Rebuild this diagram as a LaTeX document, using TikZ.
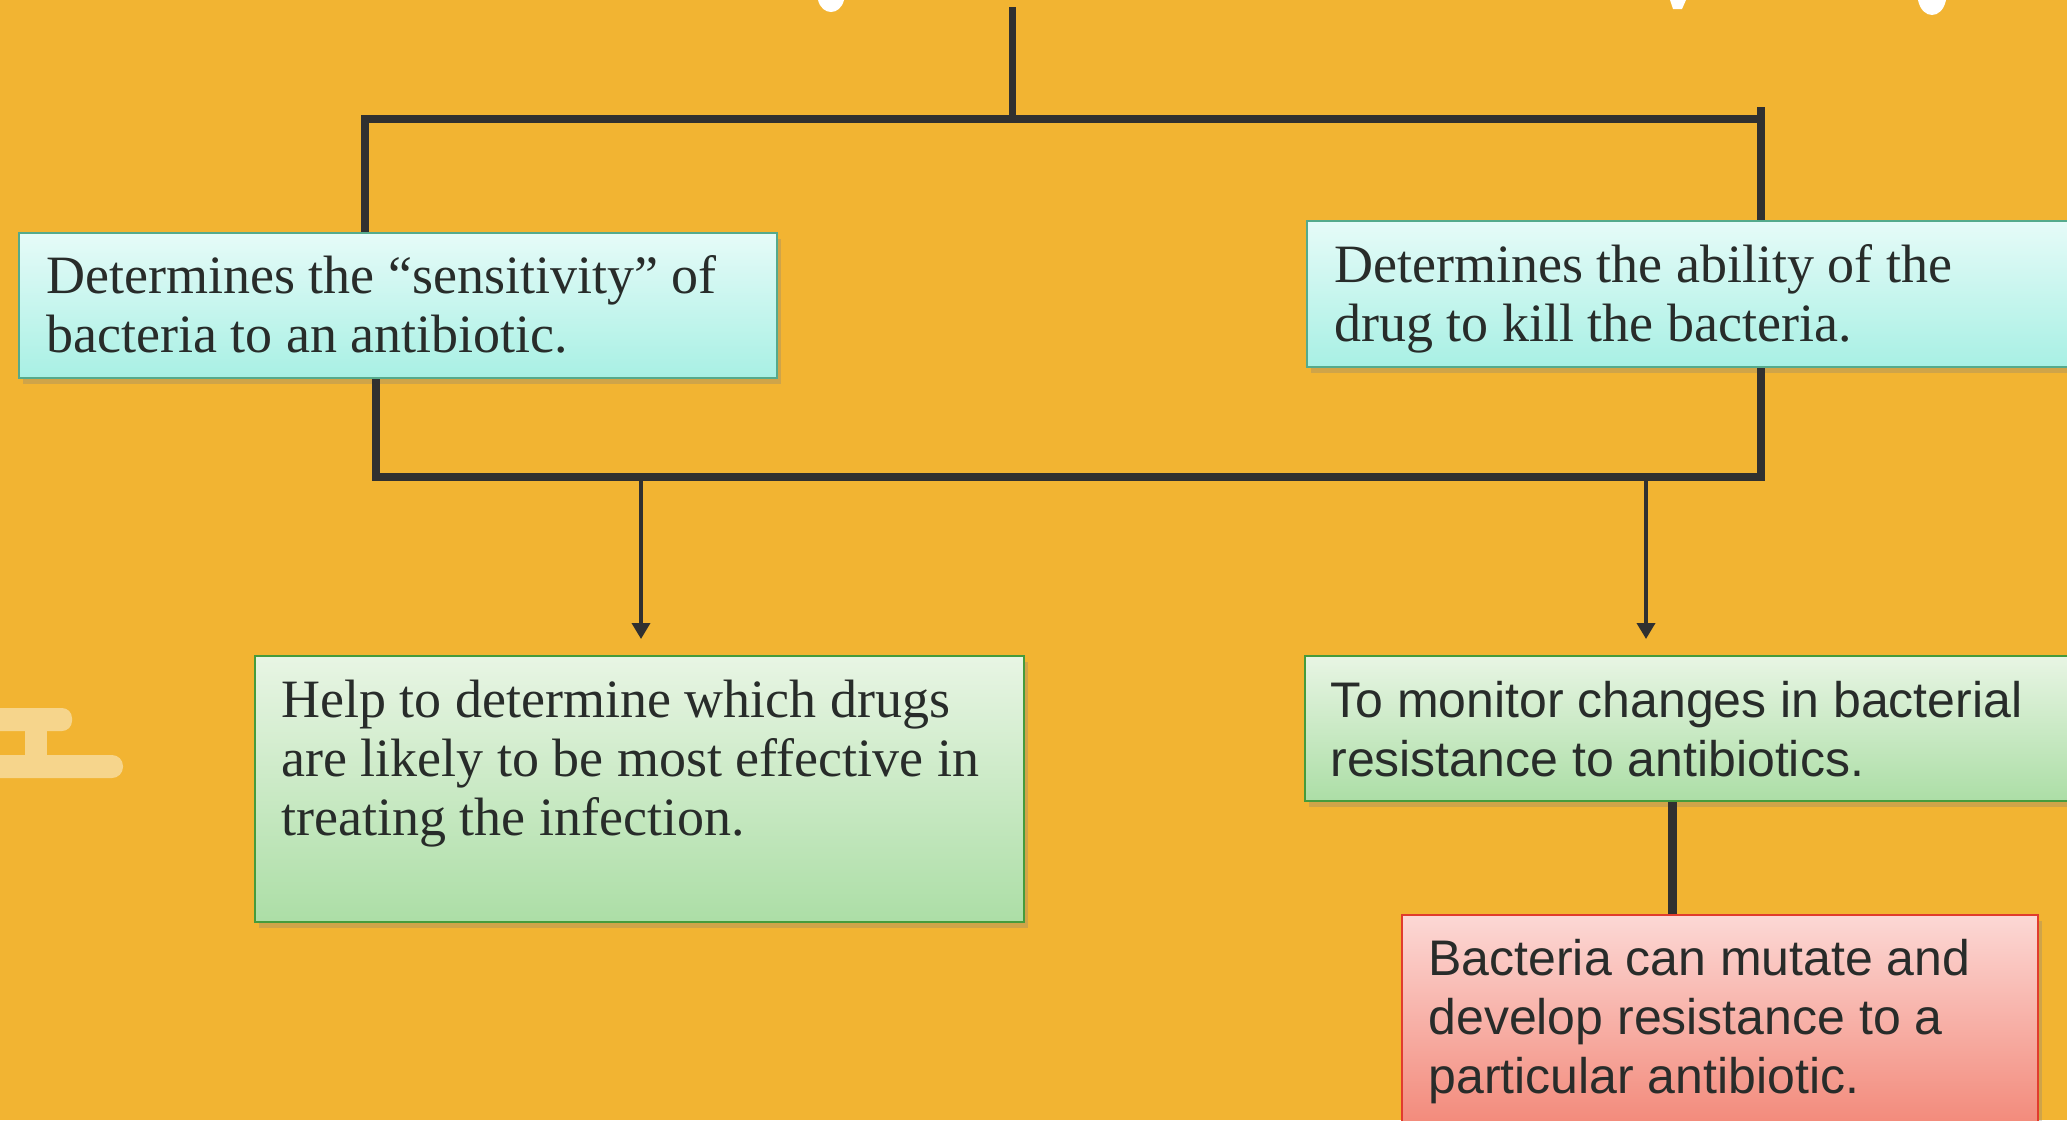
\documentclass[tikz,border=0pt]{standalone}
\usepackage{fontspec}
\setmainfont{Liberation Serif}
\newfontfamily\sansf{Liberation Sans}
\usetikzlibrary{arrows.meta,shadows,calc}
\definecolor{bg}{RGB}{242,180,50}
\definecolor{ln}{RGB}{48,48,48}
\definecolor{txtc}{RGB}{40,44,42}
\definecolor{cyanTop}{RGB}{230,251,248}
\definecolor{cyanBot}{RGB}{168,240,228}
\definecolor{cyanBd}{RGB}{85,170,140}
\definecolor{grTop}{RGB}{232,245,228}
\definecolor{grBot}{RGB}{172,222,166}
\definecolor{grBd}{RGB}{70,155,60}
\definecolor{rdTop}{RGB}{252,216,213}
\definecolor{rdBot}{RGB}{242,134,118}
\definecolor{rdBd}{RGB}{225,60,45}
\definecolor{deco}{RGB}{246,213,140}
\tikzset{
  boxbase/.style={anchor=north west, inner sep=0pt, line width=1pt,
    drop shadow={opacity=0.3, shadow xshift=2pt, shadow yshift=-3pt}},
  cyanbox/.style={boxbase, draw=cyanBd, top color=cyanTop, bottom color=cyanBot},
  greenbox/.style={boxbase, draw=grBd, top color=grTop, bottom color=grBot},
  redbox/.style={boxbase, draw=rdBd, top color=rdTop, bottom color=rdBot},
  sertxt/.style={anchor=base west, inner sep=0pt, align=left, text=txtc,
    font=\fontsize{27}{29.5}\selectfont},
  santxt/.style={anchor=base west, inner sep=0pt, align=left, text=txtc,
    font=\sansf\fontsize{25}{29.5}\selectfont},
  bar/.style={draw=ln, line width=4pt},
  arr/.style={draw=ln, line width=1.8pt, -{Triangle[width=9pt,length=8pt]}},
}
\begin{document}
\begin{tikzpicture}[x=0.5pt,y=-0.5pt]
\clip (0,0) rectangle (2067,1120);
\fill[bg] (0,0) rectangle (2067,1120);
% faint decoration at left
\fill[deco, rounded corners=5pt] (-20,708) rectangle (72,731);
\fill[deco] (25,725) rectangle (47,760);
\fill[deco, rounded corners=5.5pt] (-20,755) rectangle (123,778);
% white remnants of cut-off title
\fill[white] (818,0) .. controls (822,16) and (840,16) .. (844,0) -- cycle;
\fill[white] (1670,0) -- (1686,0) -- (1682,9) -- (1673,9) -- cycle;
\fill[white] (1918,0) .. controls (1922,20) and (1942,20) .. (1946,0) -- cycle;

% boxes
\node[cyanbox, minimum width=379pt, minimum height=72.5pt] (b1) at (18,232) {};
\node[cyanbox, minimum width=390pt, minimum height=73pt] (b2) at (1306,220) {};
\node[greenbox, minimum width=384.5pt, minimum height=133pt] (b3) at (254,655) {};
\node[greenbox, minimum width=390pt, minimum height=72.5pt] (b4) at (1304,655) {};
\node[redbox, minimum width=318pt, minimum height=110pt] (b5) at (1401,914) {};

% texts (anchored at the baseline of the last line)
\node[sertxt] (t1) at (46,352) {Determines the “sensitivity” of\\bacteria to an antibiotic.};
\node[sertxt] (t2) at (1334,341) {Determines the ability of the\\drug to kill the bacteria.};
\node[sertxt] (t3) at (281,835) {Help to determine which drugs\\are likely to be most effective in\\treating the infection.};
\node[santxt] (t4) at (1330,776) {To monitor changes in bacterial\\resistance to antibiotics.};
\node[santxt] (t5) at (1428,1093) {Bacteria can mutate and\\develop resistance to a\\particular antibiotic.};

% connector coordinates
\coordinate (top) at (1012,7);
\coordinate (tj) at (1012,119);
\coordinate (tl) at (365,119);
\coordinate (tr) at (1761,119);
\coordinate (bl) at (376,477);
\coordinate (br) at (1761,477);
\coordinate (a1) at (641,477);
\coordinate (a2) at (1646,477);
\coordinate (c45) at (1672,0);

% connectors
\draw[draw=ln, line width=3.5pt] (top) -- (tj);
\draw[bar] (tl |- b1.north) -- (tl) -- (tr);
\draw[bar] ([yshift=6]tr) -- (tr |- b2.north);
\draw[bar] (bl |- b1.south) -- (bl) -- (br) -- (br |- b2.south);
\draw[arr, shorten >=8pt] (a1) -- (a1 |- b3.north);
\draw[arr, shorten >=8pt] (a2) -- (a2 |- b4.north);
\draw[draw=ln, line width=4.5pt] (c45 |- b4.south) -- (c45 |- b5.north);
\end{tikzpicture}
\end{document}
